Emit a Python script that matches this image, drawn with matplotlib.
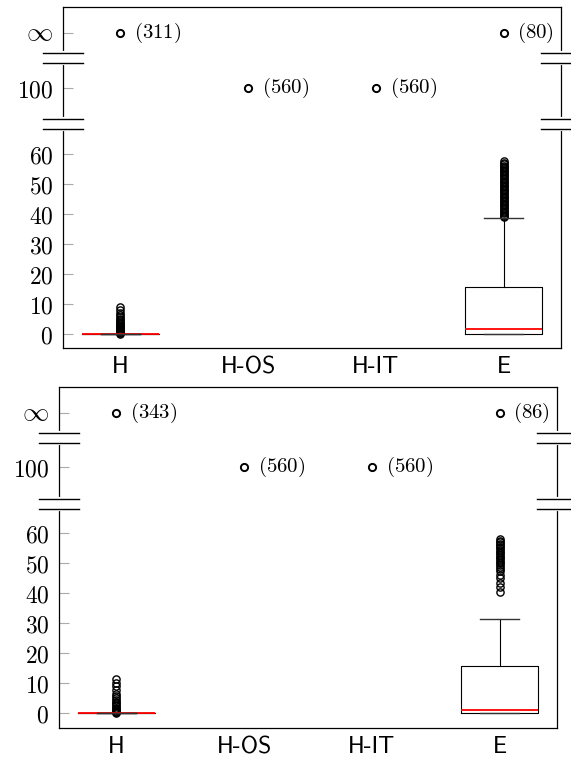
import numpy as np
import matplotlib
matplotlib.use("Agg")
import matplotlib.pyplot as plt

plt.rcParams["mathtext.fontset"] = "cm"

# ---------- data ----------
methods = ["H", "H-OS", "H-IT", "E"]

# box statistics per panel (median, q1, q3, whisker low, whisker high)
top_med = [0.0, None, None, 1.7]
top_q1 = [0.0, None, None, 0.0]
top_q3 = [0.0, None, None, 15.7]
top_wlo = [0.0, None, None, 0.0]
top_whi = [0.0, None, None, 38.8]

bot_med = [0.0, None, None, 1.1]
bot_q1 = [0.0, None, None, 0.0]
bot_q3 = [0.0, None, None, 15.8]
bot_wlo = [0.0, None, None, 0.0]
bot_whi = [0.0, None, None, 31.3]

top_fliers_H = [0.1, 0.3, 0.5, 0.8, 1.0, 1.3, 1.6, 1.9, 2.2, 2.5, 2.8, 3.2,
                3.6, 4.0, 4.5, 5.0, 5.6, 6.3, 7.1, 8.0, 9.1]
top_fliers_E = [39.1, 39.4, 39.8, 40.2, 40.7, 41.1, 41.6, 42.0, 42.5, 43.0,
                43.4, 43.9, 44.3, 44.8, 45.2, 45.7, 46.1, 46.6, 47.0, 47.5,
                48.0, 48.4, 48.9, 49.3, 49.8, 50.2, 50.7, 51.1, 51.6, 52.0,
                52.5, 53.0, 53.4, 53.9, 54.3, 54.8, 55.2, 55.7, 56.1, 56.6,
                57.0, 57.5]
bot_fliers_H = [0.1, 0.3, 0.5, 0.8, 1.1, 1.5, 1.9, 2.3, 2.8, 3.3, 3.8, 4.4,
                5.0, 5.7, 6.6, 7.9, 9.0, 10.1, 11.3]
bot_fliers_E = [40.3, 42.0, 43.6, 45.0, 46.2, 47.3, 48.2, 48.9, 49.5, 50.0,
                50.6, 51.1, 51.7, 52.2, 52.8, 53.3, 53.9, 54.4, 55.0, 55.5,
                56.0, 56.6, 57.1, 57.6, 58.0]

# points beyond the break: value (100 or inf) and count label
top_special_val = [np.inf, 100, 100, np.inf]
top_special_cnt = [311, 560, 560, 80]
bot_special_val = [np.inf, 100, 100, np.inf]
bot_special_cnt = [343, 560, 560, 86]

yticks_real = [0, 10, 20, 30, 40, 50, 60]

# fake axis positions used for the broken part of the y axis
POS_100 = 82.0
POS_INF = 100.2
BREAKS = [(90.2, 93.6), (68.2, 71.6)]


def fake_y(v):
    if np.isinf(v):
        return POS_INF
    if v >= 100:
        return POS_100
    return v


def draw_panel(ax, med, q1, q3, wlo, whi, fliers, sp_val, sp_cnt, ylim):
    stats, pos = [], []
    for i, m in enumerate(methods):
        if med[i] is None:
            continue
        stats.append(dict(med=med[i], q1=q1[i], q3=q3[i], whislo=wlo[i],
                          whishi=whi[i], fliers=fliers[m], label=m))
        pos.append(i + 1)

    ax.bxp(stats, positions=pos, widths=0.6, capwidths=0.3,
           boxprops=dict(color="black", linewidth=0.8),
           whiskerprops=dict(color="black", linewidth=0.8),
           capprops=dict(color="#333333", linewidth=1.0, zorder=3),
           medianprops=dict(color="red", linewidth=1.3),
           flierprops=dict(marker="o", markerfacecolor="none",
                           markeredgecolor="black", markersize=5.2,
                           markeredgewidth=1.0))

    for i, (v, c) in enumerate(zip(sp_val, sp_cnt)):
        y = fake_y(v)
        ax.plot(i + 1, y, "o", mfc="none", mec="black", ms=5.2, mew=1.4)
        ax.annotate(f"$({c})$", (i + 1, y), xytext=(10, 0),
                    textcoords="offset points", va="center", ha="left",
                    fontsize=15)

    ax.set_xlim(0.55, 4.45)
    ax.set_ylim(*ylim)
    ax.set_xticks(range(1, len(methods) + 1))
    ax.set_xticklabels(methods, fontfamily="cmss10", fontsize=17)
    ax.tick_params(axis="x", length=0, pad=6)

    ticks = yticks_real + [POS_100, POS_INF]
    labels = [f"${t}$" for t in yticks_real] + ["$100$", r"$\infty$"]
    ax.set_yticks(ticks)
    ax.set_yticklabels(labels, fontsize=17)
    ax.get_yticklabels()[-1].set_verticalalignment("center")
    ax.get_yticklabels()[-1].set_fontsize(19)
    ax.tick_params(axis="y", direction="in", length=7.5, width=0.8,
                   color="#aaaaaa", pad=7)

    for sp in ax.spines.values():
        sp.set_linewidth(0.9)

    # axis break marks on both sides
    trans = ax.get_yaxis_transform()
    dx = 20 / 498
    for xs in (0.0, 1.0):
        for lo, hi in BREAKS:
            ax.plot([xs, xs], [lo, hi], color="white", lw=3, transform=trans,
                    clip_on=False, zorder=5)
            for yb in (lo, hi):
                ax.plot([xs - dx, xs + dx], [yb, yb], color="black", lw=1.0,
                        transform=trans, clip_on=False, zorder=6)


fig = plt.figure(figsize=(5.71, 7.6), dpi=100)
ax_top = fig.add_axes([63 / 571, 1 - 348 / 760, 498 / 571, 341 / 760])
ax_bot = fig.add_axes([59 / 571, 1 - 728 / 760, 498 / 571, 341 / 760])

draw_panel(ax_top, top_med, top_q1, top_q3, top_wlo, top_whi,
           {"H": top_fliers_H, "E": top_fliers_E},
           top_special_val, top_special_cnt, (-4.67, 109.0))
draw_panel(ax_bot, bot_med, bot_q1, bot_q3, bot_wlo, bot_whi,
           {"H": bot_fliers_H, "E": bot_fliers_E},
           bot_special_val, bot_special_cnt, (-4.9, 108.8))

fig.savefig("out.png", dpi=100)
